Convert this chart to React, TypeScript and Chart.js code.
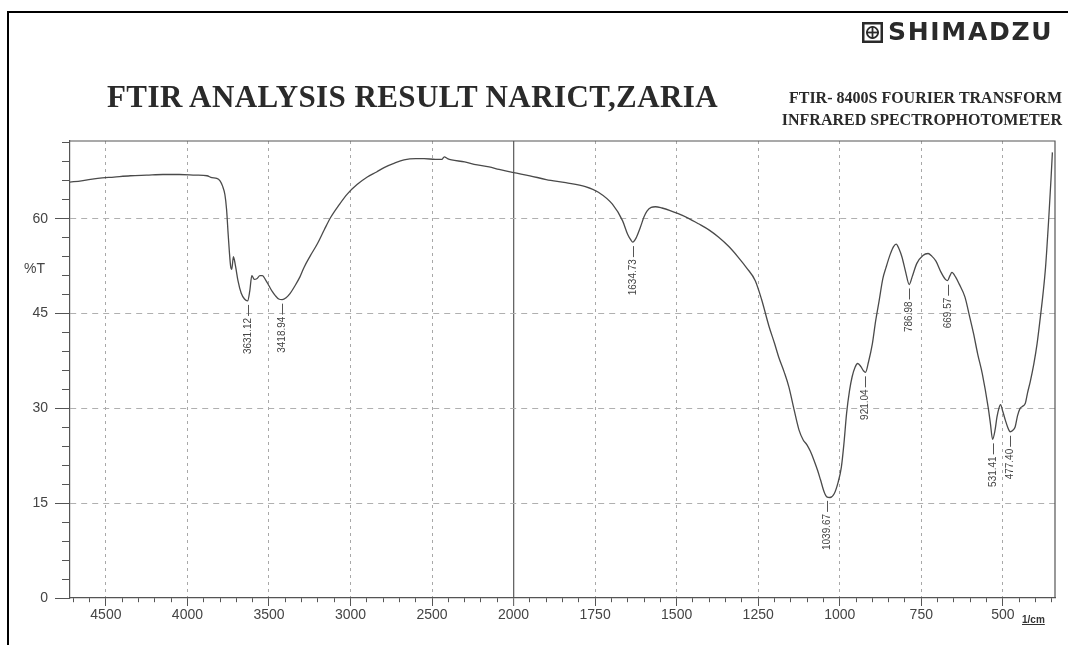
import React, { useEffect, useRef } from 'react';
import { Chart, registerables } from 'chart.js';

Chart.register(...registerables);

// Spectrum: wavenumber (1/cm) and transmittance (%T)
const wavenumbers = [
  4720, 4650, 4550, 4450, 4350, 4250, 4150, 4050, 3950, 3880, 3850, 3820, 3800, 3785, 3770, 3760, 3750, 3742, 3735,
  3728, 3718, 3705, 3690, 3670, 3650, 3631.12, 3618, 3605, 3590, 3575, 3555, 3540, 3520, 3500, 3480, 3460, 3440,
  3418.94, 3395, 3370, 3345, 3310, 3285, 3245, 3204, 3160, 3122, 3070, 3020, 2960, 2897, 2840, 2794, 2730, 2672,
  2600, 2549, 2480, 2440, 2425, 2405, 2380, 2300, 2242, 2150, 2089, 2000,
  1950, 1900, 1840, 1780, 1740, 1697, 1666, 1650, 1640, 1634.73, 1625, 1611, 1600, 1591, 1578, 1565, 1545, 1520,
  1495, 1465, 1433, 1400, 1372, 1340, 1311, 1285, 1259, 1240, 1217, 1200, 1187, 1170, 1156, 1140, 1125, 1112, 1100,
  1090, 1079, 1068, 1059, 1048, 1039.67, 1030, 1017, 1005, 995, 987, 979, 970, 962, 953, 945, 935, 928, 921.04, 912,
  900, 890, 879, 868, 858, 845, 835, 827, 818, 809, 798, 786.98, 778, 764, 745, 729, 718, 705, 690, 676, 669.57, 662,
  656, 645, 634, 616, 603, 590, 577, 563, 545, 538, 531.41, 524, 518, 512, 507, 500, 492, 485, 477.4, 470, 462, 455,
  447, 440, 431, 424, 416, 405, 395, 385, 377, 369, 359, 352, 348,
];
const transmittance = [
  65.8, 66.0, 66.4, 66.6, 66.8, 66.9, 67.0, 67.0, 66.9, 66.8, 66.5, 66.4, 66.0, 65.2, 63.8, 61.5, 57.5, 54.5, 52.5,
  52.0, 54.0, 52.5, 50.2, 48.2, 47.3, 47.0, 48.5, 51.0, 50.4, 50.5, 51.0, 51.0, 50.3, 49.4, 48.5, 47.8, 47.3,
  47.2, 47.5, 48.2, 49.2, 50.8, 52.3, 54.2, 56.0, 58.3, 60.2, 62.2, 63.9, 65.4, 66.6, 67.4, 68.1, 68.8, 69.3,
  69.5, 69.5, 69.4, 69.4, 69.8, 69.5, 69.3, 69.0, 68.6, 68.2, 67.8, 67.3,
  66.8, 66.2, 65.7, 65.1, 64.2, 62.3, 59.7, 57.5, 56.6, 56.3, 56.9, 58.7, 60.3, 61.2, 61.8, 61.9, 61.7, 61.3,
  60.8, 60.1, 59.2, 58.2, 57.1, 55.6, 53.9, 52.2, 50.2, 47.3, 43.0, 40.3, 38.1, 35.7, 33.4, 29.8, 26.6, 25.0, 24.2,
  23.2, 21.8, 20.2, 18.7, 16.8, 16.0, 15.9, 16.5, 18.3, 20.7, 24.5, 29.2, 32.8, 35.0, 36.5, 37.1, 36.6, 36.0, 35.7, 37.3,
  40.2, 43.8, 47.1, 50.5, 52.3, 54.4, 55.6, 56.0, 55.2, 53.9, 51.6, 49.6, 50.8, 52.9, 54.2, 54.5, 54.1, 53.3, 51.6, 50.4, 50.2, 51.0,
  51.5, 50.8, 49.7, 47.6, 44.8, 41.9, 38.6, 35.5, 30.2, 27.6, 25.1, 26.5, 28.6, 30.0, 30.6, 29.5, 28.1, 27.0, 26.3, 26.5, 27.1, 28.8,
  30.0, 30.3, 30.8, 32.5, 34.2, 37.0, 40.2, 44.4, 48.0, 52.3, 60.2, 66.5, 70.5,
];

// Labelled peaks
const peakWavenumbers = [3631.12, 3418.94, 1634.73, 1039.67, 921.04, 786.98, 669.57, 531.41, 477.4];
const peakTransmittance = [47.0, 47.2, 56.3, 16.0, 35.7, 49.6, 50.2, 25.1, 26.3];
const peakLabels = ['3631.12', '3418.94', '1634.73', '1039.67', '921.04', '786.98', '669.57', '531.41', '477.40'];

// Axis labels
const xTickLabels = [4500, 4000, 3500, 3000, 2500, 2000, 1750, 1500, 1250, 1000, 750, 500];
const yTickLabels = [0, 15, 30, 45, 60];

const WN_LOW = 340;
const WN_HIGH = 4720;
const BREAK = 2000;
// the recorder doubles the scale below 2000 1/cm
const toAxis = (wn: number) => (wn <= BREAK ? wn : BREAK + (wn - BREAK) / 2);
const fromAxis = (u: number) => (u <= BREAK ? u : BREAK + (u - BREAK) * 2);

const TICK_FONT = { family: '"Liberation Sans", Arial, sans-serif', size: 14 };

const boxPlugin = {
  id: 'box',
  afterDatasetsDraw(chart: any) {
    const { ctx, chartArea: a, scales } = chart;
    const x = scales.x;
    const y = scales.y;
    ctx.save();
    ctx.strokeStyle = '#555';
    ctx.lineWidth = 1.2;
    ctx.beginPath();
    ctx.moveTo(a.left, a.top);
    ctx.lineTo(a.right, a.top);
    ctx.lineTo(a.right, a.bottom);
    ctx.stroke();

    ctx.strokeStyle = '#555';
    ctx.fillStyle = '#444';
    ctx.lineWidth = 1;
    ctx.font = '10px "Liberation Sans", Arial, sans-serif';
    peakWavenumbers.forEach((wn, i) => {
      const px = Math.round(x.getPixelForValue(toAxis(wn))) + 0.5;
      const py = y.getPixelForValue(peakTransmittance[i]);
      ctx.beginPath();
      ctx.moveTo(px, py + 4);
      ctx.lineTo(px, py + 15);
      ctx.stroke();
      ctx.save();
      ctx.translate(px, py + 17);
      ctx.rotate(-Math.PI / 2);
      ctx.textAlign = 'right';
      ctx.textBaseline = 'middle';
      ctx.fillText(peakLabels[i], 0, 0);
      ctx.restore();
    });
    ctx.restore();
  },
};

function SpectrumChart() {
  const ref = useRef<HTMLCanvasElement | null>(null);
  useEffect(() => {
    if (!ref.current) return;
    const chart = new Chart(ref.current, {
      type: 'line',
      data: {
        datasets: [
          {
            data: wavenumbers.map((w, i) => ({ x: toAxis(w), y: transmittance[i] })),
            borderColor: '#4a4a4a',
            borderWidth: 1.3,
            pointRadius: 0,
            fill: false,
            cubicInterpolationMode: 'monotone',
          },
        ],
      },
      options: {
        animation: false,
        responsive: false,
        devicePixelRatio: 1,
        layout: { padding: { top: 141, right: 13, left: 0, bottom: 0 } },
        plugins: { legend: { display: false }, tooltip: { enabled: false }, title: { display: false } },
        scales: {
          x: {
            type: 'linear',
            reverse: true,
            min: toAxis(WN_LOW),
            max: toAxis(WN_HIGH),
            afterFit: (s: any) => {
              s.height = 47;
            },
            afterBuildTicks: (s: any) => {
              const t: any[] = [];
              for (let u = Math.ceil(s.min / 50) * 50; u <= s.max; u += 50) t.push({ value: u });
              s.ticks = t;
            },
            ticks: {
              autoSkip: false,
              maxRotation: 0,
              padding: 1,
              color: '#444',
              font: TICK_FONT,
              callback: (v: any) => {
                const wn = Math.round(fromAxis(Number(v)));
                return xTickLabels.includes(wn) ? String(wn) : '';
              },
            },
            grid: {
              drawOnChartArea: true,
              tickLength: 8,
              tickWidth: 1,
              lineWidth: (c: any) => (c.tick && c.tick.value === BREAK ? 1.3 : 1),
              color: (c: any) => {
                if (!c.tick) return 'transparent';
                const wn = Math.round(fromAxis(c.tick.value));
                if (wn === BREAK) return '#666';
                return xTickLabels.includes(wn) ? '#a8a8a8' : 'transparent';
              },
              tickColor: '#555',
              tickBorderDash: (c: any) => {
                if (!c.tick) return [];
                const wn = Math.round(fromAxis(c.tick.value));
                return xTickLabels.includes(wn) ? [] : [4, 100];
              },
            },
            border: {
              display: true,
              color: '#555',
              width: 1.2,
              dash: (c: any) => (c.tick && c.tick.value === BREAK ? [] : [3, 4]),
            },
          },
          y: {
            type: 'linear',
            min: 0,
            max: 72.3,
            afterFit: (s: any) => {
              s.width = 70;
            },
            afterBuildTicks: (s: any) => {
              const t: any[] = [];
              for (let v = 0; v <= 72; v += 3) t.push({ value: v });
              s.ticks = t;
            },
            ticks: {
              autoSkip: false,
              padding: 7,
              color: '#444',
              font: TICK_FONT,
              callback: (v: any) => (yTickLabels.includes(Number(v)) ? String(v) : ''),
            },
            grid: {
              tickLength: 15,
              tickWidth: 1,
              color: (c: any) => {
                if (!c.tick) return 'transparent';
                const v = c.tick.value;
                return v > 0 && yTickLabels.includes(v) ? '#b0b0b0' : 'transparent';
              },
              tickColor: '#555',
              tickBorderDash: (c: any) => {
                if (!c.tick) return [];
                return yTickLabels.includes(c.tick.value) ? [] : [0, 7, 8, 100];
              },
            },
            border: {
              display: true,
              color: '#555',
              width: 1.2,
              dash: [6, 5],
            },
          },
        },
      },
      plugins: [boxPlugin],
    } as any);
    return () => chart.destroy();
  }, []);
  return <canvas ref={ref} width={1068} height={645} style={{ position: 'absolute', left: 0, top: 0, width: 1068, height: 645 }} />;
}

function Logo() {
  return (
    <div style={{ position: 'absolute', left: 862, top: 21, display: 'flex', alignItems: 'center' }}>
      <svg width="21" height="21" viewBox="0 0 21 21">
        <rect x="1.25" y="1.25" width="18.5" height="18.5" fill="none" stroke="#2a2a2a" strokeWidth="2.5" />
        <circle cx="10.5" cy="10.5" r="5.6" fill="none" stroke="#2a2a2a" strokeWidth="1.8" />
        <line x1="10.5" y1="4" x2="10.5" y2="17" stroke="#2a2a2a" strokeWidth="1.8" />
        <line x1="4" y1="10.5" x2="17" y2="10.5" stroke="#2a2a2a" strokeWidth="1.8" />
      </svg>
      <span
        style={{
          marginLeft: 5,
          fontFamily: '"DejaVu Sans", Arial, sans-serif',
          fontWeight: 'bold',
          fontSize: 25,
          lineHeight: '22px',
          color: '#2a2a2a',
          letterSpacing: 1.7,
        }}
      >
        SHIMADZU
      </span>
    </div>
  );
}

export default function App() {
  const serif = '"Liberation Serif", "Times New Roman", serif';
  return (
    <div style={{ position: 'absolute', left: 0, top: 0, width: 1068, height: 645, background: '#fff', overflow: 'hidden' }}>
      <div
        style={{
          position: 'absolute',
          left: 7,
          top: 11,
          width: 1061,
          height: 634,
          borderTop: '2px solid #000',
          borderLeft: '2px solid #000',
        }}
      />
      <SpectrumChart />
      <Logo />
      <div
        style={{
          position: 'absolute',
          left: 107,
          top: 81,
          fontFamily: serif,
          fontWeight: 'bold',
          fontSize: 31,
          lineHeight: '31px',
          letterSpacing: 0.4,
          color: '#2a2a2a',
          whiteSpace: 'nowrap',
        }}
      >
        FTIR ANALYSIS RESULT NARICT,ZARIA
      </div>
      <div
        style={{
          position: 'absolute',
          right: 6,
          top: 87,
          fontFamily: serif,
          fontWeight: 'bold',
          fontSize: 16,
          lineHeight: '22px',
          color: '#2a2a2a',
          textAlign: 'right',
          whiteSpace: 'nowrap',
        }}
      >
        <div>FTIR- 8400S FOURIER TRANSFORM</div>
        <div>INFRARED SPECTROPHOTOMETER</div>
      </div>
      <div
        style={{
          position: 'absolute',
          left: 24,
          top: 260,
          fontFamily: '"Liberation Sans", Arial, sans-serif',
          fontSize: 14,
          color: '#444',
        }}
      >
        %T
      </div>
      <div
        style={{
          position: 'absolute',
          left: 1022,
          top: 614,
          fontFamily: '"Liberation Sans", Arial, sans-serif',
          fontSize: 10,
          fontWeight: 'bold',
          color: '#333',
          textDecoration: 'underline',
        }}
      >
        1/cm
      </div>
    </div>
  );
}
